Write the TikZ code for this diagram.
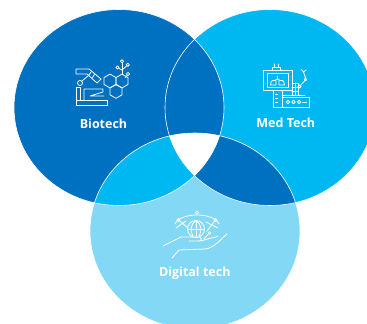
\documentclass[tikz,border=0pt]{standalone}
\usepackage{fontspec}
\setmainfont{Open Sans}
\usepackage{tikz}
\usetikzlibrary{positioning}
\definecolor{biodark}{HTML}{0070C0}
\definecolor{medcyan}{HTML}{00B8F1}
\definecolor{digpale}{HTML}{82D8F5}
\tikzset{
    setname/.style = {
        text = white, anchor = base, inner sep = 0pt,
        font = \bfseries\fontsize{12.5}{14}\selectfont
    },
    icon/.style = {draw = white, line width = 0.8pt, line join = round, line cap = round},
    rim/.style = {draw = white, line width = 0.6pt},
    oval/.style = {x radius = 105pt, y radius = 98pt}
}
\begin{document}
\begin{tikzpicture}[x=1pt, y=-1pt]

    \clip (0,0) rectangle (367,324);

    \coordinate (bio) at (119,107.5);
    \coordinate (med) at (270,107.5);
    \coordinate (dig) at (195,231);

    % Sets
    \fill[digpale] (dig) ellipse [oval];
    \fill[biodark] (bio) ellipse [oval];
    \fill[medcyan] (med) ellipse [oval];

    % Overlaps
    \begin{scope}
        \clip (bio) ellipse [oval];
        \fill[biodark] (med) ellipse [oval];
        \fill[medcyan] (dig) ellipse [oval];
    \end{scope}
    \begin{scope}
        \clip (med) ellipse [oval];
        \fill[biodark] (dig) ellipse [oval];
    \end{scope}
    \begin{scope}
        \clip (bio) ellipse [oval];
        \clip (med) ellipse [oval];
        \fill[white] (dig) ellipse [oval];
    \end{scope}

    \draw[rim] (bio) ellipse [oval];
    \draw[rim] (med) ellipse [oval];
    \draw[rim] (dig) ellipse [oval];

    % Biotech icon
    \draw[icon] (76,100) rectangle (107,105);
    \draw[icon] (76,87) rectangle (80,100);
    \draw[icon] (80,83) circle [radius=2.5pt];
    \draw[icon] (76,69) -- (89,69) -- (101,79) -- (97,83) -- (87,74) -- (76,74) -- cycle;
    \draw[icon] (91,72) -- (89,75) (94.5,74.5) -- (92.5,77.5);
    \draw[icon] (82,81) -- (89,75);
    \draw[icon] (84,100) -- (84,89) -- (103,89) -- (103,92) -- (90,96) -- (104,96);
    \foreach \cx/\cy in {110/81, 122/81, 116/91.4}
        \draw[icon] (\cx,\cy) ++(30:6.9) -- ++(150:6.9) -- ++(210:6.9) -- ++(270:6.9)
            -- ++(330:6.9) -- ++(30:6.9) -- cycle;
    \draw[icon] (122,74.1) -- (122,63);
    \draw[icon] (122,61.3) circle [radius=1.6pt];
    \draw[icon] (122,70) -- (126.5,66);
    \draw[icon] (127.8,64.8) circle [radius=1.6pt];
    \draw[icon] (122,70) -- (119,68.5);
    \draw[icon] (117.5,67.5) circle [radius=1.6pt];
    \draw[icon] (125.5,77.5) -- (127,75.5);
    \draw[icon] (128,74) circle [radius=1.6pt];

    % Med Tech icon
    \draw[icon] (263,70) rectangle (292,90);
    \draw[icon] (267,73.5) rectangle (288,87);
    \draw[icon] (272,70) -- (272,67) -- (280,67) -- (280,70);
    \draw[icon] (274,67) -- (274,64) (278,67) -- (278,64);
    \draw[icon] (277.5,76) -- (277.5,79) -- (274.5,80.5) (277.5,79) -- (280.5,80.5);
    \draw[icon] (270.5,85) .. controls (270.5,80) and (274,79.5) .. (276,80.5) -- (276,85) -- cycle;
    \draw[icon] (284.5,85) .. controls (284.5,80) and (281,79.5) .. (279,80.5) -- (279,85) -- cycle;
    \draw[icon] (273,90) rectangle (282,107);
    \foreach \dy in {94, 98, 102}
        \draw[icon] (275.5,\dy) -- (277.5,\dy);
    \draw[icon] (282,97) rectangle (309,107);
    \draw[icon] (283,95) -- (305,95);
    \foreach \ox in {288, 293.5, 299}
        \draw[icon] (\ox,102) circle [radius=1.8pt];
    \draw[icon] (302.5,102) -- (306.5,102);
    \draw[icon] (292,83) rectangle (298,95);
    \draw[icon] (295,83) -- (295,95) (292,87) -- (298,87) (292,91) -- (298,91);
    \draw[icon] (299.5,86.5) circle [radius=1.5pt];
    \draw[icon] (301,85) -- (305,80.5);
    \draw[icon] (305.5,79.5) circle [radius=1.2pt];
    \draw[icon] (305.5,78) -- (303.5,72);
    \draw[icon] (301.5,69.5) -- (303.5,72) -- (306,70);

    % Digital tech icon
    \draw[icon] (196,229) circle [radius=8.5pt];
    \draw[icon] (196,220.5) -- (196,236) (187.5,229) -- (204.5,229);
    \draw[icon] (196,220.5) .. controls (190,224) and (190,232) .. (193,236);
    \draw[icon] (196,220.5) .. controls (202,224) and (202,232) .. (199,236);
    \draw[icon] (175,224) .. controls (180,212) and (214,212) .. (219,224);
    \draw[icon] (197,212.5) circle [radius=1.6pt];
    \draw[icon] (178.5,220) circle [radius=1.6pt];
    \draw[icon] (215.5,220) circle [radius=1.6pt];
    \draw[icon] (178.5,220) -- (188,228) (176,228) -- (186,221);
    \draw[icon] (215.5,220) -- (207,231) (218,228) -- (206,222);
    \draw[icon] (209.5,233) circle [radius=1.4pt];
    \draw[icon] (208,234.5) -- (204,239);
    \draw[icon] (163,246) -- (181,237) -- (199,237)
        .. controls (202,237.5) and (202,241) .. (199,241) -- (189,241);
    \draw[icon] (172,258) -- (179,250) -- (205,249)
        .. controls (214,248) and (220,240) .. (227,234);
    \draw[icon] (201,241) -- (211,238) .. controls (214,237) and (216,238) .. (218,236);

    % Labels
    \node[setname] (biotech) at (103.5,128.5) {Biotech};
    \node[setname] (medtech) at (285.8,127.3) {Med Tech};
    \node[setname] (digital) at (194.8,276.7) {Digital tech};

\end{tikzpicture}
\end{document}
